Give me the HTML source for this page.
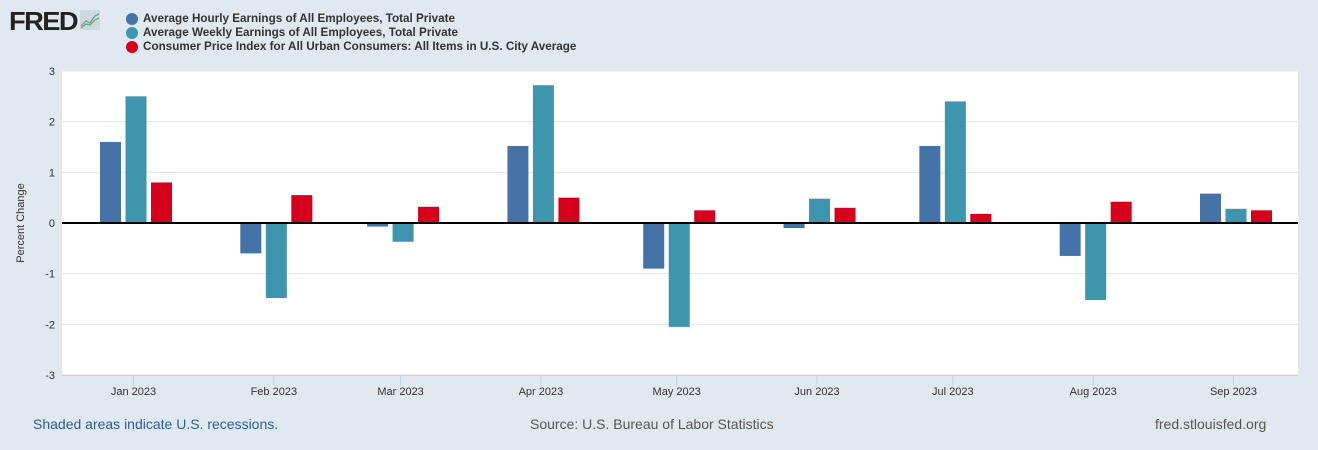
<!DOCTYPE html>
<html><head><meta charset="utf-8"><style>
body{margin:0;width:1318px;height:450px;background:#e1e9f0;font-family:"Liberation Sans",sans-serif;overflow:hidden;position:relative}
.leg{position:absolute;left:125px;font-size:11.7px;font-weight:bold;color:#333;line-height:14px}
.dot{position:absolute;left:-17px;top:1px;width:12px;height:12px;border-radius:50%}
.ft{position:absolute;top:416px;font-size:14px}
</style></head><body>
<div style="position:absolute;left:9px;top:6px;font-size:26px;font-weight:900;color:#222;letter-spacing:-1.5px;transform:scaleX(1.05);transform-origin:left">FRED</div>
<svg style="position:absolute;left:80px;top:10px" width="20" height="20"><rect width="20" height="20" fill="#cfd8df"/><polyline points="1,16 6,11 10,13 15,6 19,4" fill="none" stroke="#6a8fb3" stroke-width="1.2"/><polyline points="1,18 6,14 10,15 15,10 19,8" fill="none" stroke="#6aa84f" stroke-width="1.2"/></svg>
<div class="leg" style="top:12px;left:143px"><span class="dot" style="background:#4572a7"></span>Average Hourly Earnings of All Employees, Total Private</div>
<div class="leg" style="top:26px;left:143px"><span class="dot" style="background:#3d96ae"></span>Average Weekly Earnings of All Employees, Total Private</div>
<div class="leg" style="top:40px;left:143px"><span class="dot" style="background:#d6001c"></span>Consumer Price Index for All Urban Consumers: All Items in U.S. City Average</div>
<svg id="c" width="1318" height="450" style="position:absolute;left:0;top:0"></svg>
<div class="ft" style="left:33px;color:#2b5d9b">Shaded areas indicate U.S. recessions.</div>
<div class="ft" style="left:530px;color:#555">Source: U.S. Bureau of Labor Statistics</div>
<div class="ft" style="left:1155px;color:#555">fred.stlouisfed.org</div>
<script>
const months=["Jan 2023","Feb 2023","Mar 2023","Apr 2023","May 2023","Jun 2023","Jul 2023","Aug 2023","Sep 2023"];
const monthDays=[0,31,59,90,120,151,181,212,243];
const hourly=[1.6,-0.6,-0.07,1.52,-0.9,-0.1,1.52,-0.65,0.58];
const weekly=[2.5,-1.48,-0.37,2.72,-2.05,0.48,2.4,-1.52,0.28];
const cpi=[0.8,0.55,0.32,0.5,0.25,0.3,0.18,0.42,0.25];
const yTicks=[3,2,1,0,-1,-2,-3];
const svg=document.getElementById('c');const NS='http://www.w3.org/2000/svg';
const L=62,R=1298,T=71,B=375;
const y=v=>223-v*(B-T)/6;
const x=d=>133.5+d*(1233.5-133.5)/243;
function mk(t,a,p){const e=document.createElementNS(NS,t);for(const k in a)e.setAttribute(k,a[k]);(p||svg).appendChild(e);return e;}
const bg=mk('rect',{x:L,y:T,width:R-L,height:B-T,fill:'#fff'});


yTicks.forEach(v=>{
 const g=mk('line',{x1:L,x2:R,y1:y(v),y2:y(v),stroke:'#e6e6e6'});
 
 
 const t=mk('text',{x:55,y:y(v)+4,'text-anchor':'end','font-size':11,fill:'#333'});t.textContent=v;
 
 
});
const yt=mk('text',{x:24,y:223,'text-anchor':'middle','font-size':11,fill:'#333',transform:'rotate(-90 24 223)'});yt.textContent='Percent Change';


const ax=mk('line',{x1:L,x2:R,y1:B+0.5,y2:B+0.5,stroke:'#c0d0e0'});


const series=[[hourly,'#4572a7',-23],[weekly,'#3d96ae',2.5],[cpi,'#d6001c',28]];
months.forEach((m,i)=>{
 const cx=x(monthDays[i]);
 const tk=mk('line',{x1:cx,x2:cx,y1:B,y2:B+10,stroke:'#c0d0e0'});
 
 
 const t=mk('text',{x:cx,y:395,'text-anchor':'middle','font-size':11,fill:'#333'});t.textContent=m;
 
 
 series.forEach(([arr,col,off])=>{
  const v=arr[i];const y0=y(Math.max(v,0)),y1=y(Math.min(v,0));
  const r=mk('rect',{x:cx+off-10.5,y:y0,width:21,height:Math.max(y1-y0,0.5),fill:col});
  
  
 });
});
const z=mk('line',{x1:L,x2:R,y1:y(0),y2:y(0),stroke:'#000','stroke-width':2});


</script>
</body></html>
